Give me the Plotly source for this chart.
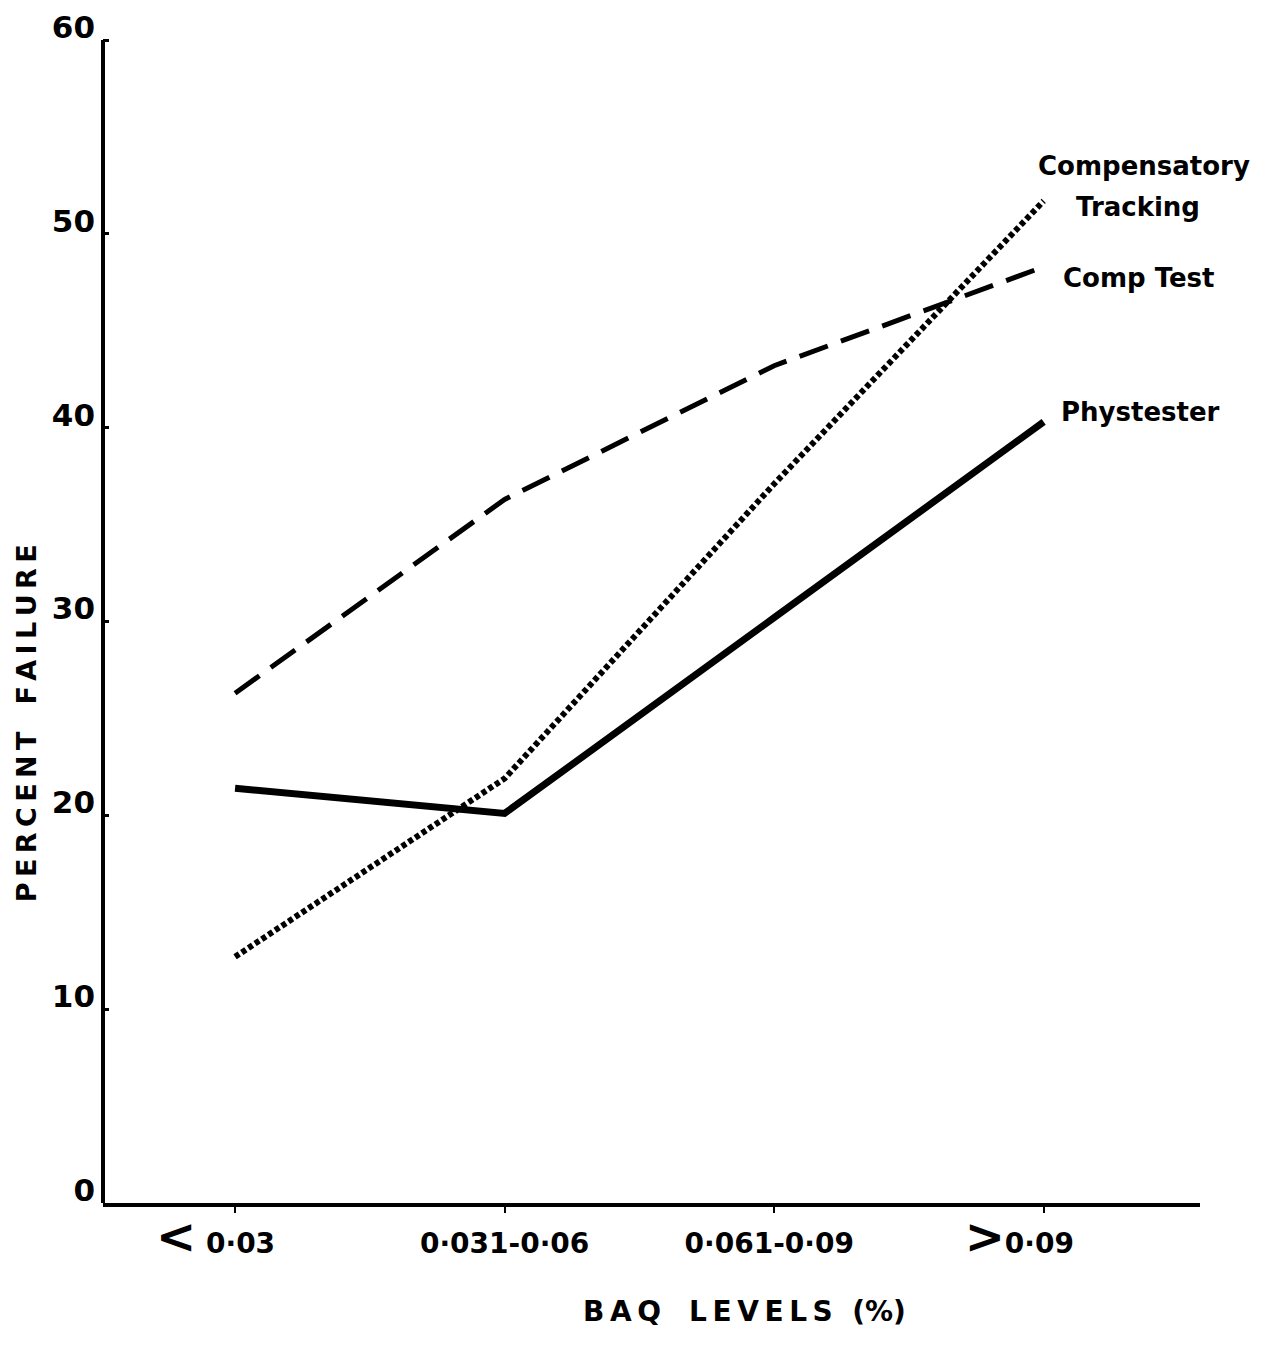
import plotly.graph_objects as go

categories = ["<0·03", "0·031-0·06", "0·061-0·09", ">0·09"]
tick_labels = ["<b><span style='font-size:48px'>&lt;</span> 0·03&nbsp;&nbsp;&nbsp;&nbsp;</b>",
               "<b>0·031-0·06</b>", "<b>0·061-0·09&nbsp;</b>",
               "<b><span style='font-size:48px'>&gt;</span>0·09&nbsp;&nbsp;&nbsp;&nbsp;&nbsp;</b>"]
phystester = [21.4, 20.1, 30.2, 40.3]
comp_test = [26.3, 36.3, 43.2, 48.3]
comp_tracking = [12.7, 21.9, 37.1, 51.7]
y_ticks = [0, 10, 20, 30, 40, 50, 60]
y_tick_labels = ["<b>0</b>", "<b>10</b>", "<b>20</b>", "<b>30</b>", "<b>40</b>", "<b>50</b>", "<b>60</b>"]

FONT = "DejaVu Sans"
TS = "\u2009"
Y_TOP = 61.5
PX_PER_UNIT = 1165 / 60
extra = (Y_TOP - 60) * PX_PER_UNIT

fig = go.Figure()
fig.add_trace(go.Scatter(x=categories, y=comp_test, mode="lines",
                         line=dict(color="black", width=5, dash="30px,14px")))
fig.add_trace(go.Scatter(x=categories, y=comp_tracking, mode="lines",
                         line=dict(color="black", width=6, dash="5px,3px")))
fig.add_trace(go.Scatter(x=categories, y=phystester, mode="lines",
                         line=dict(color="black", width=7)))

# y axis line from 0 to 60
fig.add_shape(type="line", xref="paper", yref="y", x0=0, x1=0, y0=0, y1=y_ticks[-1],
              line=dict(color="black", width=4))

lab = dict(font=dict(family=FONT, size=26, color="black"), showarrow=False,
           xref="x", yref="y", xanchor="left")
fig.add_annotation(x=categories[3], y=53.5, text="<b>Compensatory</b>", xshift=-8, **lab)
fig.add_annotation(x=categories[3], y=51.4, text="<b>Tracking</b>", xshift=30, **lab)
fig.add_annotation(x=categories[3], y=47.7, text="<b>Comp Test</b>", xshift=17, **lab)
fig.add_annotation(x=categories[3], y=40.8, text="<b>Phystester</b>", xshift=15, **lab)

ytitle = TS.join("PERCENT") + "\u2003" + TS.join("FAILURE")
xtitle = TS.join("BAQ") + "\u2003" + TS.join("LEVELS") + "  " + "(%)"
fig.add_annotation(x=-0.069, y=(1203 - 722) / 1165 * 60 / Y_TOP, xref="paper", yref="paper",
                   xanchor="center", yanchor="middle",
                   text="<b>" + ytitle + "</b>", textangle=-90,
                   showarrow=False, font=dict(family=FONT, size=27, color="black"))
fig.add_annotation(x=0.585, y=(1203 - 1330) / 1165 * 60 / Y_TOP, xref="paper", yref="paper",
                   text="<b>" + xtitle + "</b>",
                   showarrow=False, font=dict(family=FONT, size=28, color="black"))

fig.update_layout(
    width=1265, height=1349,
    margin=dict(l=95, r=73, t=30 - extra, b=154),
    paper_bgcolor="white", plot_bgcolor="white",
    showlegend=False,
    xaxis=dict(type="category", range=[-0.49, 3.58], tickvals=categories, ticktext=tick_labels,
               showline=True, linecolor="black", linewidth=4, showgrid=False, zeroline=False,
               ticks="outside", ticklen=6, tickwidth=2, tickcolor="black",
               ticklabelstandoff=6,
               tickfont=dict(family=FONT, size=28, color="black")),
    yaxis=dict(range=[0, Y_TOP], tickvals=y_ticks, ticktext=y_tick_labels,
               showline=False, showgrid=False, zeroline=False,
               ticks="inside", ticklen=6, tickwidth=3, tickcolor="black",
               ticklabelshift=-13, ticklabelstandoff=7, ticklabeloverflow="allow",
               tickfont=dict(family=FONT, size=31, color="black")),
)
fig.write_html("out.html")
